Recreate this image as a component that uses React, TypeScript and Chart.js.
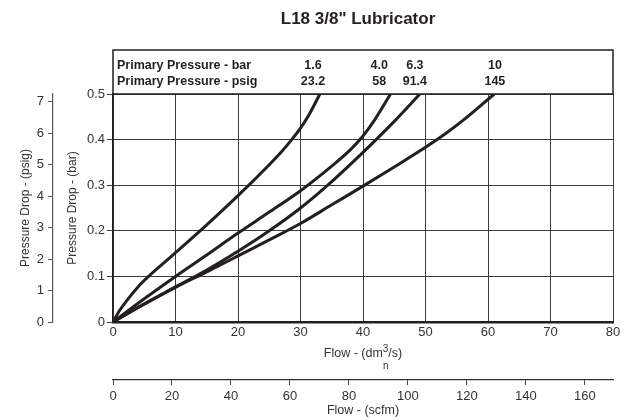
import React, { useEffect, useRef } from 'react';
import { Chart, registerables } from 'chart.js';
Chart.register(...registerables);

// Primary pressure labels
const pressureBar = ['1.6', '4.0', '6.3', '10'];
const pressurePsig = ['23.2', '58', '91.4', '145'];
// flow (dm3n/s) where each header label sits
const labelFlows = [32, 42.6, 48.3, 61.1];

// Curves: flow (dm3n/s) vs pressure drop (bar)
const flow16 = [0, 1, 2.2, 4, 5.7, 8, 10, 15, 20, 25, 27, 28.6, 30, 31.5, 33.1];
const drop16 = [0, 0.024, 0.047, 0.077, 0.1, 0.128, 0.152, 0.213, 0.277, 0.345, 0.374, 0.4, 0.425, 0.458, 0.5];
const flow40 = [0, 5, 10, 15, 20, 25, 30, 35, 38, 40, 42, 44.4];
const drop40 = [0, 0.051, 0.1, 0.147, 0.195, 0.241, 0.288, 0.342, 0.378, 0.408, 0.446, 0.5];
const flow63 = [0, 5, 10, 15, 20, 25, 30, 35, 40, 45, 49.1];
const drop63 = [0, 0.04, 0.077, 0.114, 0.155, 0.2, 0.25, 0.308, 0.372, 0.44, 0.5];
const flow10 = [0, 5, 10, 15, 20, 25, 30, 35, 40, 45, 50, 53, 56, 61];
const drop10 = [0, 0.039, 0.076, 0.11, 0.145, 0.18, 0.216, 0.257, 0.298, 0.34, 0.383, 0.411, 0.442, 0.5];

const BAR_TO_PSI = 14.5038;
const DM3S_TO_SCFM = 2.11888;
const FLOW_MAX = 80;
const DROP_MAX = 0.5;

const FONT = "'Liberation Sans', Arial, Helvetica, sans-serif";
const INK = '#231f20';

const toPts = (xs: number[], ys: number[]) => xs.map((x, i) => ({ x, y: ys[i] }));

const headerPlugin = {
  id: 'header',
  afterDraw(chart: any) {
    const { ctx, chartArea } = chart;
    const xs = chart.scales.x;
    ctx.save();
    // title
    ctx.fillStyle = INK;
    ctx.font = `bold 17px ${FONT}`;
    ctx.textAlign = 'center';
    ctx.textBaseline = 'middle';
    ctx.fillText('L18 3/8" Lubricator', (chartArea.left + chartArea.right) / 2 - 5, 19);
    // header box
    const top = 50;
    ctx.strokeStyle = INK;
    ctx.lineWidth = 1.5;
    ctx.strokeRect(chartArea.left, top, chartArea.right - chartArea.left, chartArea.top - top);
    ctx.font = `bold 12.5px ${FONT}`;
    ctx.textAlign = 'left';
    ctx.fillText('Primary Pressure - bar', chartArea.left + 4, 65.5);
    ctx.fillText('Primary Pressure - psig', chartArea.left + 4, 82);
    ctx.textAlign = 'center';
    pressureBar.forEach((t, i) => {
      const px = xs.getPixelForValue(labelFlows[i]);
      ctx.fillText(t, px, 65.5);
      ctx.fillText(pressurePsig[i], px, 82);
    });
    // flow title with superscript 3 and subscript n
    const big = `12.5px ${FONT}`;
    const small = `10px ${FONT}`;
    ctx.fillStyle = '#333';
    ctx.textAlign = 'left';
    ctx.textBaseline = 'alphabetic';
    ctx.font = big;
    const a = 'Flow - (dm';
    const c = '/s)';
    const wa = ctx.measureText(a).width;
    const wc = ctx.measureText(c).width;
    ctx.font = small;
    const wb = ctx.measureText('3').width;
    const total = wa + wb + wc;
    const cx = (xs.left + xs.right) / 2;
    const x0 = cx - total / 2;
    const base = 357;
    ctx.font = big;
    ctx.fillText(a, x0, base);
    ctx.font = small;
    ctx.fillText('3', x0 + wa, base - 5);
    ctx.fillText('n', x0 + wa + 0.2, base + 12);
    ctx.font = big;
    ctx.fillText(c, x0 + wa + wb, base);
    ctx.restore();
  },
};

export default function App() {
  const ref = useRef<HTMLCanvasElement>(null);
  useEffect(() => {
    if (!ref.current) return;
    const line = (xs: number[], ys: number[]) => ({
      data: toPts(xs, ys),
      borderColor: INK,
      borderWidth: 3,
      pointRadius: 0,
      showLine: true,
      fill: false,
      cubicInterpolationMode: 'monotone' as const,
      xAxisID: 'x',
      yAxisID: 'y',
    });
    const chart = new Chart(ref.current, {
      type: 'scatter',
      data: {
        datasets: [
          line(flow16, drop16),
          line(flow40, drop40),
          line(flow63, drop63),
          line(flow10, drop10),
        ],
      },
      plugins: [headerPlugin],
      options: {
        animation: false,
        responsive: false,
        layout: { padding: { top: 94, right: 11, left: 0, bottom: 0 } },
        plugins: { legend: { display: false }, tooltip: { enabled: false }, title: { display: false } },
        scales: {
          x: {
            type: 'linear',
            position: 'bottom',
            weight: 0,
            min: 0,
            max: FLOW_MAX,
            afterFit: (s: any) => { s.height = 58; },
            ticks: { stepSize: 10, padding: 3, color: '#333', font: { family: FONT, size: 13 }, maxRotation: 0 },
            grid: { color: '#3a3a3a', lineWidth: 1, drawTicks: false },
            border: { color: INK, width: 2.5 },
            title: { display: false },
          },
          x2: {
            type: 'linear',
            position: 'bottom',
            weight: 1,
            min: 0,
            max: FLOW_MAX * DM3S_TO_SCFM,
            afterFit: (s: any) => { s.height = 40; },
            ticks: { stepSize: 20, includeBounds: false, padding: 4, color: '#333', font: { family: FONT, size: 13 }, maxRotation: 0 },
            grid: { drawOnChartArea: false, drawTicks: true, tickLength: 5, color: '#444' },
            border: { color: '#333', width: 1.2 },
            title: {
              display: true,
              text: 'Flow - (scfm)',
              color: '#333',
              font: { family: FONT, size: 12.5 },
              padding: { top: 0, bottom: 2 },
            },
          },
          y: {
            type: 'linear',
            position: 'left',
            weight: 0,
            min: 0,
            max: DROP_MAX,
            afterFit: (s: any) => { s.width = 60; },
            ticks: { stepSize: 0.1, padding: 2, color: '#333', font: { family: FONT, size: 13 } },
            grid: { color: '#3a3a3a', lineWidth: 1, drawTicks: true, tickLength: 6 },
            border: { color: INK, width: 1.5 },
            title: {
              display: true,
              text: 'Pressure Drop - (bar)',
              color: '#333',
              font: { family: FONT, size: 12 },
              padding: { top: 12, bottom: 0 },
            },
          },
          y2: {
            type: 'linear',
            position: 'left',
            weight: 1,
            min: 0,
            max: DROP_MAX * BAR_TO_PSI,
            afterFit: (s: any) => { s.width = 53; },
            ticks: { stepSize: 1, includeBounds: false, padding: 4, color: '#333', font: { family: FONT, size: 13 } },
            grid: { drawOnChartArea: false, drawTicks: true, tickLength: 5, color: '#555' },
            border: { color: '#555', width: 1.2 },
            title: {
              display: true,
              text: 'Pressure Drop - (psig)',
              color: '#333',
              font: { family: FONT, size: 12 },
              padding: { top: 18, bottom: 0 },
            },
          },
        },
      } as any,
    });
    return () => chart.destroy();
  }, []);
  return (
    <div style={{ position: 'absolute', left: 0, top: 0, width: 624, height: 420, background: '#fff' }}>
      <canvas ref={ref} width={624} height={420} />
    </div>
  );
}
